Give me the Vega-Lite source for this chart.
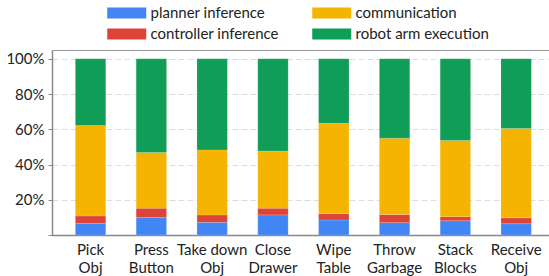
{
  "$schema": "https://vega.github.io/schema/vega-lite/v6.json",
  "autosize": {"type": "none"},
  "padding": {"left": 52, "top": 50, "right": 0, "bottom": 41},
  "width": 497,
  "height": 185,
  "background": "white",
  "config": {
    "font": "Lato",
    "view": {"stroke": "#999", "strokeWidth": 1}
  },
  "data": {
    "values": [
      {"task": "Pick\nObj", "component": "planner inference", "ord": 1, "share": 0.066},
      {"task": "Pick\nObj", "component": "controller inference", "ord": 2, "share": 0.042},
      {"task": "Pick\nObj", "component": "communication", "ord": 3, "share": 0.513},
      {"task": "Pick\nObj", "component": "robot arm execution", "ord": 4, "share": 0.379},
      {"task": "Press\nButton", "component": "planner inference", "ord": 1, "share": 0.100},
      {"task": "Press\nButton", "component": "controller inference", "ord": 2, "share": 0.052},
      {"task": "Press\nButton", "component": "communication", "ord": 3, "share": 0.316},
      {"task": "Press\nButton", "component": "robot arm execution", "ord": 4, "share": 0.532},
      {"task": "Take down\nObj", "component": "planner inference", "ord": 1, "share": 0.072},
      {"task": "Take down\nObj", "component": "controller inference", "ord": 2, "share": 0.042},
      {"task": "Take down\nObj", "component": "communication", "ord": 3, "share": 0.369},
      {"task": "Take down\nObj", "component": "robot arm execution", "ord": 4, "share": 0.517},
      {"task": "Close\nDrawer", "component": "planner inference", "ord": 1, "share": 0.114},
      {"task": "Close\nDrawer", "component": "controller inference", "ord": 2, "share": 0.038},
      {"task": "Close\nDrawer", "component": "communication", "ord": 3, "share": 0.325},
      {"task": "Close\nDrawer", "component": "robot arm execution", "ord": 4, "share": 0.523},
      {"task": "Wipe\nTable", "component": "planner inference", "ord": 1, "share": 0.085},
      {"task": "Wipe\nTable", "component": "controller inference", "ord": 2, "share": 0.036},
      {"task": "Wipe\nTable", "component": "communication", "ord": 3, "share": 0.513},
      {"task": "Wipe\nTable", "component": "robot arm execution", "ord": 4, "share": 0.366},
      {"task": "Throw\nGarbage", "component": "planner inference", "ord": 1, "share": 0.070},
      {"task": "Throw\nGarbage", "component": "controller inference", "ord": 2, "share": 0.046},
      {"task": "Throw\nGarbage", "component": "communication", "ord": 3, "share": 0.433},
      {"task": "Throw\nGarbage", "component": "robot arm execution", "ord": 4, "share": 0.451},
      {"task": "Stack\nBlocks", "component": "planner inference", "ord": 1, "share": 0.081},
      {"task": "Stack\nBlocks", "component": "controller inference", "ord": 2, "share": 0.023},
      {"task": "Stack\nBlocks", "component": "communication", "ord": 3, "share": 0.432},
      {"task": "Stack\nBlocks", "component": "robot arm execution", "ord": 4, "share": 0.464},
      {"task": "Receive\nObj", "component": "planner inference", "ord": 1, "share": 0.064},
      {"task": "Receive\nObj", "component": "controller inference", "ord": 2, "share": 0.034},
      {"task": "Receive\nObj", "component": "communication", "ord": 3, "share": 0.506},
      {"task": "Receive\nObj", "component": "robot arm execution", "ord": 4, "share": 0.396}
    ]
  },
  "mark": {"type": "bar", "stroke": "#ffffff", "strokeWidth": 0.3, "strokeOpacity": 0.5},
  "encoding": {
    "x": {
      "field": "task",
      "type": "nominal",
      "sort": null,
      "scale": {"paddingInner": 0.5, "paddingOuter": 0.337, "align": 0.57},
      "axis": {
        "title": null,
        "labelAngle": 0,
        "labelExpr": "split(datum.label, '\\n')",
        "labelFontSize": 15,
        "labelLineHeight": 18,
        "labelColor": "#222",
        "labelPadding": 7,
        "ticks": false,
        "domainColor": "#888",
        "domainWidth": 1.5
      }
    },
    "y": {
      "field": "share",
      "type": "quantitative",
      "stack": "zero",
      "scale": {"domain": [0, 1.05], "nice": false},
      "axis": {
        "title": null,
        "values": [0, 0.2, 0.4, 0.6, 0.8, 1.0],
        "format": ".0%",
        "labelExpr": "datum.value == 0 ? '' : datum.label",
        "labelFontSize": 15,
        "labelColor": "#222",
        "labelPadding": 4,
        "ticks": true,
        "tickSize": 4,
        "tickColor": "#888",
        "domainColor": "#888",
        "domainWidth": 1.5,
        "gridColor": "#dddddd",
        "gridDash": [6, 3],
        "gridWidth": 1
      }
    },
    "order": {"field": "ord", "type": "quantitative"},
    "color": {
      "field": "component",
      "type": "nominal",
      "scale": {
        "domain": ["planner inference", "controller inference", "communication", "robot arm execution"],
        "range": ["#4285F4", "#DB4437", "#F4B400", "#0F9D58"]
      },
      "legend": {
        "title": null,
        "orient": "none",
        "legendX": 55,
        "legendY": -47,
        "columns": 2,
        "columnPadding": 33,
        "rowPadding": 3,
        "symbolType": "M-1,-0.56H3V0.56H-1Z",
        "symbolSize": 380,
        "symbolStrokeWidth": 0,
        "symbolOpacity": 1,
        "labelFontSize": 15,
        "labelColor": "#222",
        "labelOffset": 23.5
      }
    }
  }
}
